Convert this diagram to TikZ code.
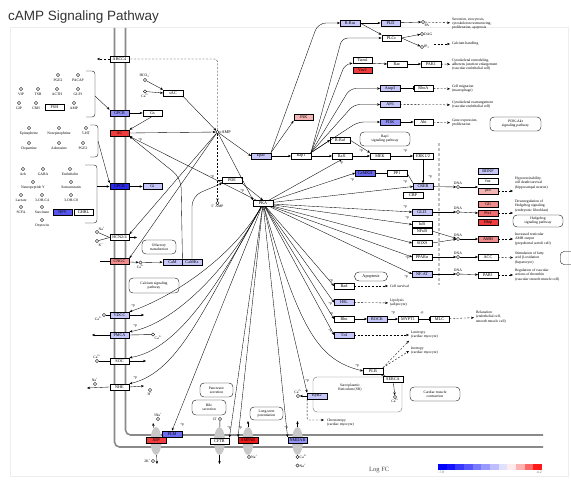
\documentclass[tikz,border=0pt]{standalone}
\usepackage{fontspec}
\setmainfont{Liberation Serif}
\newfontfamily\titlefont{Liberation Sans}
\usetikzlibrary{arrows.meta,positioning,shapes.geometric}

\definecolor{lav}{HTML}{C6C6F8}
\definecolor{midblue}{HTML}{9494F6}
\definecolor{blue2}{HTML}{6C6CF0}
\definecolor{dblue}{HTML}{2A2AEC}
\definecolor{npyblue}{HTML}{5656EE}
\definecolor{red1}{HTML}{F03C3C}
\definecolor{red2}{HTML}{EE1A1A}
\definecolor{pink1}{HTML}{F08C8C}
\definecolor{pink2}{HTML}{F5B4B4}
\definecolor{pink3}{HTML}{F07070}
\definecolor{memgray}{HTML}{8A8A8A}
\definecolor{chgray}{HTML}{C8C8C8}

\newcommand\kf{\fontsize{4.2}{4.6}\selectfont}
\newcommand\kt{\fontsize{3.7}{4.2}\selectfont}
\newcommand\cion{Ca\textsuperscript{2+}}
% ligand: circle with its name below
\newcommand\lig[4]{\node[cpd] (#1) at (#2,#3) {};\node[pp, below=1.4pt of #1] (#1-t) {#4};}

\begin{document}
\begin{tikzpicture}[x=1pt, y=-1pt,
    gene/.style={draw, fill=white, line width=0.35pt, minimum width=19.5pt, minimum height=6.2pt, inner sep=0pt, font=\kf},
    cpd/.style={circle, draw, fill=white, line width=0.4pt, minimum size=3.2pt, inner sep=0pt},
    pp/.style={font=\kt, inner sep=0.2pt},
    txt/.style={font=\kt, align=left, inner sep=0pt, outer sep=2pt, anchor=west},
    pway/.style={draw, rounded corners=4pt, line width=0.35pt, font=\kt, align=center, inner sep=0.5pt},
    myedge/.style={->, line width=0.35pt},
    dedge/.style={->, line width=0.35pt, dash pattern=on 2pt off 1.6pt},
    inhedge/.style={-{Bar[width=4pt]}, line width=0.35pt},
    membrane/.style={draw=memgray, line width=1.6pt, rounded corners=5pt},
    channel/.style={ellipse, fill=chgray, minimum width=11pt, minimum height=28pt, inner sep=0pt},
    >={Stealth[length=3pt, width=2.4pt]}
]
\useasboundingbox (0,0) rectangle (571,487);
\clip (0,0) rectangle (571,487);

% title and frame
\node[anchor=base west, font=\titlefont\fontsize{13.5}{15}\selectfont, text=black!80, inner sep=0pt] (title) at (8,20.5) {cAMP Signaling Pathway};
\draw[black!7, line width=0.5pt] (10,27) rectangle (568,476);

% membrane
\draw[membrane] (114.5,28) -- (114.5,447) -- (543,447);
\draw[membrane] (125.5,28) -- (125.5,435) -- (543,435);
\node[channel] (atp-c) at (156,441) {};
\node[channel] (cftr-c) at (219.5,441) {};
\node[channel] (ampar-c) at (248,441) {};
\node[channel] (nmdar-c) at (297.5,441) {};

% membrane proteins
\node[gene] (abcc) at (119.5,59) {ABCC4};
\node[gene, fill=midblue] (gpcrs) at (119.5,113) {GPCR};
\node[gene, fill=red1] (ac) at (119.5,133) {AC};
\node[gene, fill=dblue] (gpcri) at (119.5,186.5) {GPCR};
\node[gene] (hcn) at (119.5,237.5) {HCN2/4};
\node[gene, fill=pink1] (cngc) at (119.5,261.5) {CNGC};
\node[gene, fill=lav] (vdcc) at (119.5,315) {VDCC};
\node[gene, fill=lav] (pmca) at (119.5,335) {PMCA};
\node[gene] (soc) at (119.5,361) {SOC};
\node[gene] (nhe) at (119.5,387) {NHE};
\node[gene, fill=red1] (atp) at (156,440.5) {ATP};
\node[gene, fill=blue2] (plm) at (172,434) {PLM};
\node[gene] (cftr) at (219.5,441) {CFTR};
\node[gene, fill=red2] (ampar) at (248,440.5) {AMPAR};
\node[gene, fill=midblue] (nmdar) at (297.5,440.5) {NMDAR};

% ligands
\lig{pge}{58}{75}{PGE2}
\lig{pacap}{78}{75}{PACAP}
\lig{vip}{21}{89}{VIP}
\lig{tsh}{38}{89}{TSH}
\lig{acth}{57}{89}{ACTH}
\lig{glp}{78}{89}{GLP1}
\lig{gip}{19}{103}{GIP}
\lig{crh}{36}{103}{CRH}
\lig{amp}{74}{103}{AMP}
\node[gene] (fsh) at (54.5,107) {FSH};
\draw[line width=0.35pt, rounded corners=3pt] (86,71) -- (95,71) -- (95,117) -- (86,117);
\lig{epi}{29}{128}{Epinephrine}
\lig{norepi}{59}{128}{Norepinephrine}
\lig{sht}{86}{128}{5-HT}
\lig{dopa}{29}{143}{Dopamine}
\lig{adeno}{59}{143}{Adenosine}
\lig{pgd}{83}{143}{PGE2}
\draw[line width=0.35pt, rounded corners=3pt] (90,125) -- (98,125) -- (98,157) -- (90,157);
\lig{ach}{23}{169}{Ach}
\lig{gaba}{43}{169}{GABA}
\lig{edn}{70}{169}{Endothelin}
\lig{npy}{33}{182}{Neuropeptide Y}
\lig{sst}{71}{182}{Somatostatin}
\lig{lac}{21}{195}{Lactate}
\lig{ohc4}{42}{195}{3-OH-C4}
\lig{ohc8}{71}{195}{3-OH-C8}
\lig{scfa}{21}{207}{SCFA}
\lig{succ}{42}{207}{Succinate}
\lig{oxt}{42}{220}{Oxytocin}
\node[gene, fill=npyblue] (npyg) at (62.5,212) {NPY};
\node[gene] (ghrl) at (83.5,212) {GHRL};
\draw[line width=0.35pt, rounded corners=3pt] (85,165) -- (97,165) -- (97,223) -- (85,223);
\draw[myedge] (95,96) -- (gpcrs.north west);
\draw[myedge] (98,141) -- (gpcri.north west);
\draw[myedge] (97,186.5) -- (gpcri.west);

% ions at the membrane
\node[cpd, label={[pp]above right:Na\textsuperscript{+}}] (na1) at (97,232) {};
\node[cpd, label={[pp]below right:K\textsuperscript{+}}] (k1) at (97,241) {};
\node[cpd, label={[pp]below:\cion}] (ca2) at (140.5,262.5) {};
\node[cpd, label={[pp]below left:\cion}] (ca3) at (104,315) {};
\node[cpd, label={[pp]below right:\cion}] (ca4) at (153,334.5) {};
\node[cpd, label={[pp]above:\cion}] (ca5) at (97,361) {};
\node[cpd, label={[pp]above:Na\textsuperscript{+}}] (na2) at (95,384) {};
\node[cpd, label={[pp]below:H\textsuperscript{+}}] (h1) at (150,390) {};
\node[cpd, label={[pp]above:3Na\textsuperscript{+}}] (na3) at (158,419) {};
\node[cpd, label={[pp]left:2K\textsuperscript{+}}] (k2) at (153,461) {};
\node[cpd, label={[pp]left:Cl\textsuperscript{-}}] (cl) at (220,419) {};
\node[cpd, label={[pp]right:Na\textsuperscript{+}}] (na4) at (249,457) {};
\node[cpd, label={[pp]right:\cion}] (ca6) at (297.5,457) {};
\node[cpd, label={[pp]right:Na\textsuperscript{+}}] (na5) at (297.5,465.5) {};
\coordinate (abcc-out) at (97,59);
\coordinate (hcn-out) at (137,237.5);
\coordinate (cngc-in) at (100,261.5);
\coordinate (vdcc-out) at (144,315);
\coordinate (pmca-out) at (92,335);
\coordinate (soc-out) at (146,361);
\coordinate (nhe-out) at (87,388);
\coordinate (nhe-in) at (144,386);
\coordinate (atp-out) at (153,423);
\coordinate (atp-in) at (157,464);
\coordinate (cftr-in) at (219.5,464);
\coordinate (ampar-out) at (248,421);
\coordinate (nmdar-out) at (297.5,421);

\draw (na1) -- (hcn.west); \draw (k1) -- (hcn.west);
\draw[myedge] (hcn.east) -- (hcn-out);
\draw (cngc-in) -- (cngc.west);
\draw[myedge] (cngc) -- (ca2);
\draw (ca3) -- (vdcc); \draw[myedge] (vdcc.east) -- (vdcc-out);
\draw[myedge] (pmca.west) -- (pmca-out); \draw (pmca.east) -- (ca4);
\draw (ca5) -- (soc); \draw[myedge] (soc.east) -- (soc-out);
\draw[myedge] (nhe.west) -- (nhe-out); \draw[myedge] (nhe.east) -- (nhe-in);
\draw[myedge] (atp-c) -- (atp-out); \draw[myedge] (atp-c) -- (atp-in);
\draw (cl) -- (cftr-c); \draw[myedge] (cftr-c) -- (cftr-in);
\draw[myedge] (ampar-c) -- (ampar-out); \draw (na4) -- (ampar-c);
\draw[myedge] (nmdar-c) -- (nmdar-out); \draw (ca6) -- (nmdar-c);

% cytosol, upper left
\node[gene] (gs) at (152.5,113) {Gs};
\node[gene, fill=lav] (gi) at (152.5,186.5) {Gi};
\node[gene] (sac) at (173,93) {sAC};
\node[cpd, label={[pp]above:HCO\textsubscript{3}\textsuperscript{-}}] (hco3) at (145,80) {};
\node[cpd, label={[pp]below:\cion}] (ca1) at (145,91.5) {};
\node[cpd, label={[pp, font=\kf]right:cAMP}] (camp) at (217.5,132) {};
\node[cpd, label={[pp]below:5' AMP}] (famp) at (217.5,203) {};
\node[gene, fill=lav] (epac) at (261,156) {Epac};
\node[gene] (pde) at (232,180) {PDE};
\node[gene] (pka) at (263,203.5) {PKA};
\node[gene, fill=lav] (cam) at (172.5,262) {CaM};
\node[gene, fill=lav] (camks) at (192,262) {CaMKs};
\node[pway, minimum width=34pt, minimum height=14pt] (olf) at (159,247) {Olfactory\\transduction};
\node[pway, minimum width=50pt, minimum height=15pt] (casig) at (154,285.5) {Calcium signaling\\pathway};

\draw[myedge] (gpcrs) -- (gs);
\draw[myedge] (gpcri) -- (gi);
\draw[myedge] (gs.south) -- (ac.north east);
\draw[myedge] (ac.east) -- (camp);
\draw[myedge] (hco3) -- (sac.north west);
\draw[myedge] (ca1) -- (sac.west);
\draw[myedge] (sac.south east) -- (camp);
\draw[dedge, -, rounded corners=3pt] (camp) -- (217.5,59) -- (abcc.east);
\draw[dedge] (abcc.west) -- (abcc-out);
\draw[dedge] (camp) -- (famp);
\draw (pde.west) -- (pde.west -| famp);
\draw[myedge] (ca2) -- (cam);
\draw[myedge] (camp) -- (hcn.north east);
\draw[myedge] (camp) -- (cngc.north east);
\draw[myedge] (camp) -- (epac.west);
\draw[myedge] (camp) -- (pka.north west);
\draw[myedge] (pka) -- (ac.south east);
\draw[myedge, rounded corners=10pt] (cam.north east) -- (181,178) -- (ac.south east);
\draw[myedge, rounded corners=10pt] (camks.north) -- (192,196) -- (pde.south west);
\draw[myedge] (pde.south east) -- (pka.north);

% PKA to the membrane
\draw[myedge] (pka) .. controls (230,262) and (165,300) .. (vdcc.north east);
\draw[myedge] (pka) .. controls (225,275) and (170,325) .. (pmca.north east);
\draw[myedge] (pka) .. controls (215,292) and (175,350) .. (soc.north east);
\draw[myedge] (pka) .. controls (205,305) and (180,372) .. (nhe.north east);
\draw[myedge] (pka) -- (plm.north);
\draw[myedge] (pka) -- (cftr.north east);
\draw[myedge] (pka) -- (ampar.north west);
\draw[myedge] (pka) -- (nmdar.north west);

% Epac and Rap1 branch
\node[gene] (rap1) at (301,156) {Rap1};
\node[gene, fill=pink2] (jnk) at (303.5,117.5) {JNK};
\node[gene, fill=lav] (rras) at (350,23) {R-Ras};
\node[gene, fill=lav] (pld) at (390.5,23) {PLD};
\node[gene] (plce) at (391.5,38) {PLCε};
\node[cpd, label={[pp]below right:PA}] (pa) at (423,22) {};
\node[cpd, label={[pp]right:DAG}] (dag) at (422,34) {};
\node[cpd, label={[pp]right:IP\textsubscript{3}}] (ip3) at (422,47) {};
\node[gene] (tiam) at (362.5,60) {Tiam1};
\node[gene, fill=red1] (vav) at (362.5,70) {Vav2};
\node[gene] (rac) at (397,64) {Rac};
\node[gene] (pak) at (431,64) {PAK1};
\node[gene, fill=lav] (arap) at (390,88.5) {Arap3};
\node[gene] (rhoa) at (423.5,88.5) {RhoA};
\node[gene, fill=lav] (af6) at (390,104.5) {AF6};
\node[gene, fill=midblue] (pi3k) at (390,122) {PI3K};
\node[gene] (akt) at (423.5,122) {Akt};
\node[pway, minimum width=51pt, minimum height=14pt] (pi3kpw) at (515.5,124) {PI3K-Akt\\signaling pathway};
\node[pway, minimum width=50pt, minimum height=14pt] (rap1pw) at (385,139) {Rap1\\signaling pathway};
\node[gene] (braf) at (340,140) {B-Raf};
\node[gene] (raf1) at (342,156) {Raf1};
\node[gene] (mek) at (380,156) {MEK};
\node[gene] (erk) at (423,156) {ERK1/2};
\node[gene, fill=blue2] (camkii) at (365,173) {CaMKII};
\node[gene] (pp1) at (397,173) {PP1};
\node[txt] (t-sec) at (450,23.5) {Secretion, exocytosis,\\cytoskeleton restructuring,\\proliferation, apoptosis};
\node[txt] (t-ca) at (450,44) {Calcium handling};
\node[txt] (t-cyto) at (450,64.5) {Cytoskeletal remodeling,\\adherens junction enlargement\\(vascular endothelial cell)};
\node[txt] (t-mig) at (450,89) {Cell migration\\(macrophage)};
\node[txt] (t-rear) at (450,105) {Cytoskeletal rearrangement\\(vascular endothelial cell)};
\node[txt] (t-gene) at (450,123) {Gene expression,\\proliferation};
\coordinate (ca-start) at (434,44);

\draw[myedge] (epac) -- (rap1);
\draw[myedge] (epac.north east) -- (jnk.south west);
\draw[myedge, rounded corners=8pt] (epac.north east) -- (318,23) -- (rras.west);
\draw[myedge] (rras) -- (pld);
\draw[myedge] (rras.east) -- (plce.north west);
\draw[myedge] (pld) -- (pa);
\draw[myedge] (plce.east) -- (dag);
\draw[myedge] (plce.east) -- (ip3);
\draw[dedge] (pa) -- (t-sec);
\draw[dedge] (ca-start) -- (t-ca);
\draw[myedge, rounded corners=6pt] (rap1.north east) -- (342,38) -- (plce.west);
\draw[myedge, rounded corners=6pt] (rap1.north east) -- (345,64) -- (tiam.south west);
\draw[myedge, rounded corners=6pt] (rap1.north east) -- (350,88.5) -- (arap.west);
\draw[myedge, rounded corners=6pt] (rap1.north east) -- (354,104.5) -- (af6.west);
\draw[myedge, rounded corners=6pt] (rap1.north east) -- (358,122) -- (pi3k.west);
\draw[myedge] (rap1.north east) -- (braf.west);
\draw[myedge] (rap1) -- (raf1);
\draw[myedge] (tiam.south east) -- (rac.west);
\draw[myedge] (rac) -- (pak);
\draw[dedge] (pak) -- (t-cyto);
\draw[inhedge] (arap) -- (rhoa);
\draw[dedge] (rhoa) -- (t-mig);
\draw[dedge] (af6) -- (t-rear);
\draw[myedge] (pi3k) -- (akt);
\draw[dedge] (akt) -- (t-gene);
\draw[myedge] (braf.east) -- (mek.north west);
\draw[myedge] (raf1) -- (mek);
\draw[myedge] (mek) -- (erk);
\draw[inhedge] (camkii) -- (pp1);

% nucleus
\draw[black!25, line width=1.5pt, dash pattern=on 3pt off 2pt] (439,143) -- (439,285);
\node[gene, fill=lav] (creb) at (423,186.5) {CREB};
\node[gene] (cbp) at (413,195) {CBP};
\node[gene, fill=lav] (gli3) at (422,212) {GLI3};
\node[gene] (ikb) at (422,224.5) {IκB};
\node[gene] (nfkb) at (422,231) {NFκB};
\node[gene] (sox9) at (422,243) {SOX9};
\node[gene] (ppar) at (422,257) {PPARα};
\node[gene, fill=lav] (nfat) at (422,274) {NF-AT};
\node[cpd, label={[pp]above:DNA}] (dna1) at (458,187) {};
\node[cpd, label={[pp]above:DNA}] (dna2) at (458,212) {};
\node[cpd, label={[pp]above:DNA}] (dna3) at (458,239) {};
\node[cpd, label={[pp]above:DNA}] (dna4) at (458,257) {};
\node[cpd, label={[pp]above:DNA}] (dna5) at (458,274) {};
\node[gene, fill=lav] (bdnf) at (488,171) {BDNF};
\node[gene] (fos) at (488,181) {fos};
\node[gene, fill=pink2] (jun) at (488,191) {jun};
\node[gene, fill=pink1] (gli) at (488,204) {Gli};
\node[gene, fill=pink3] (ptc) at (488,213) {Ptc1};
\node[gene, fill=red1] (hhip) at (488,222) {Hhip};
\node[gene, fill=pink1] (amh) at (488,239) {AMH};
\node[gene] (acc) at (488,257) {ACC};
\node[gene] (par1) at (488,275) {PAR1};
\node[txt] (t-hyper) at (513,183) {Hyperexcitability,\\cell death/survival\\(hippocampal neuron)};
\node[txt] (t-down) at (513,206) {Downregulation of\\Hedgehog signaling\\(embryonic fibroblast)};
\node[pway, minimum width=50pt, minimum height=12pt] (hhpw) at (538,221) {Hedgehog\\signaling pathway};
\node[txt] (t-amh) at (513,239) {Increased testicular\\AMH output\\(prepubertal sertoli cell)};
\node[txt] (t-fat) at (513,258) {Stimulation of fatty\\acid β-oxidation\\(hepatocyte)};
\node[pway, minimum width=40pt, minimum height=13pt, anchor=west] (fapw) at (560,258) {Fatty acid\\degradation};
\node[txt] (t-par) at (513,275) {Regulation of vascular\\actions of thrombin\\(vascular smooth muscle cell)};

\draw[myedge] (erk) -- (creb);
\draw (pp1.east) -- (creb.north west);
\draw[myedge] (creb) -- (dna1);
\draw[myedge] (dna1) -- (dna1 -| jun.west);
\draw[myedge] (gli3) -- (dna2);
\draw[myedge] (dna2) -- (ptc.west);
\draw[myedge] (nfkb.east) -- (dna3);
\draw[myedge] (sox9.east) -- (dna3);
\draw[myedge] (dna3) -- (amh);
\draw[myedge] (ppar) -- (dna4);
\draw[myedge] (dna4) -- (acc);
\draw[myedge] (nfat) -- (dna5);
\draw[myedge] (dna5) -- (par1);
\draw[dedge] (jun.east) -- (jun.east -| t-hyper.west);
\draw[dedge] (ptc.east) -- (ptc.east -| t-down.west);
\draw[dedge] (amh) -- (t-amh);
\draw[dedge] (acc) -- (t-fat);
\draw[dedge] (par1) -- (t-par);

% PKA targets on the right
\draw[myedge] (pka) -- (camkii.west);
\draw[myedge] (pka) -- (raf1.south);
\draw[myedge] (pka) -- (creb.west);
\draw[myedge] (pka) -- (gli3.west);
\draw[myedge] (pka) -- (ikb.west);
\draw[myedge] (pka) -- (sox9.west);
\draw[myedge] (pka) -- (ppar.west);
\draw[myedge] (pka) -- (nfat.west);

% lower cytosol
\node[pway, minimum width=33pt, minimum height=9pt, rounded corners=4.5pt, font=\kf] (apo) at (371,276.5) {Apoptosis};
\node[gene] (bad) at (344,286) {Bad};
\node[gene, fill=lav] (hsl) at (344,302.5) {HSL};
\node[gene] (rho) at (344,319) {Rho};
\node[gene, fill=lav] (rock) at (377,319) {ROCK};
\node[gene] (mypt) at (408,319) {MYPT1};
\node[gene] (mlc) at (439.5,319) {MLC};
\node[gene, fill=lav] (tni) at (344,335) {TnI};
\node[txt] (t-surv) at (388,286) {Cell survival};
\node[txt] (t-lipo) at (388,303) {Lipolysis\\(adipocyte)};
\node[txt] (t-relax) at (474,317) {Relaxation\\(endothelial cell,\\smooth muscle cell)};
\node[txt] (t-lusi) at (409,335) {Lusitropy\\(cardiac myocyte)};
\node[txt] (t-ino) at (409,351) {Inotropy\\(cardiac myocyte)};
\node[draw=black!55, line width=0.4pt, rounded corners=4pt, minimum width=89pt, minimum height=35pt] (sr) at (357.5,394.5) {};
\node[pp, align=center] (sr-t) at (350,388) {Sarcoplasmic\\Reticulum (SR)};
\node[gene] (plb) at (373,371) {PLB};
\node[gene] (serca) at (393,379) {SERCA};
\node[cpd, label={[pp]below:\cion}] (ca7) at (395,397) {};
\node[gene, fill=lav] (ryr) at (317,396) {RyR2};
\node[cpd, label={[pp]above:\cion}] (ca8) at (298,396) {};
\node[txt, anchor=north west] (t-chr) at (325,417) {Chronotropy\\(cardiac myocyte)};
\coordinate (chr-end) at (324,420);
\node[pway, minimum width=50pt, minimum height=14pt] (cmc) at (435,394) {Cardiac muscle\\contraction};
\node[pway, minimum width=33pt, minimum height=14pt] (panc) at (216.5,390) {Pancreatic\\secretion};
\node[pway, minimum width=34pt, minimum height=15pt] (bile) at (209,407.5) {Bile\\secretion};
\node[pway, minimum width=33pt, minimum height=13pt] (ltp) at (266.5,413.5) {Long-term\\potentiation};

\draw[myedge] (pka) -- (bad.west);
\draw[myedge] (pka) -- (hsl.west);
\draw[myedge] (pka) -- (rho.west);
\draw[myedge] (pka) -- (tni.west);
\draw[myedge] (pka) .. controls (300,330) and (318,360) .. (plb.west);
\draw[myedge] (pka) -- (ryr.north west);
\draw[dedge] (bad) -- (t-surv);
\draw[dedge] (hsl) -- (t-lipo);
\draw[myedge] (rho) -- (rock);
\draw[myedge] (rock) -- (mypt);
\draw[inhedge] (mypt) -- (mlc);
\draw[dedge] (mlc) -- (t-relax);
\draw[dedge] (tni) -- (t-lusi);
\draw[dedge] (plb.north east) -- (t-lusi.south west);
\draw[dedge] (plb.north east) -- (t-ino.west);
\draw[inhedge] (plb.south east) -- (serca.north west);
\draw[myedge] (serca) -- (ca7);
\draw[myedge] (ryr) -- (ca8);
\draw[dedge, rounded corners=2pt] (ryr.south west) -- (ryr.south west |- chr-end) -- (chr-end);

% phosphorylation marks
\foreach \x/\y [count=\k] in {140/140, 182/425, 229/428, 240/428, 286/428, 307/381, 357/366,
    133/306, 135/326, 135/378, 212/177, 242/191, 341/163, 352/180, 361/151, 405/151,
    405/182, 430/177, 405/207, 407/218, 407/258, 406/277, 331/281, 330/304, 331/314,
    330/331, 393/313}
  \node[pp] (p\k) at (\x,\y) {+p};
\node[pp] (mp1) at (422,313) {-p};

% legend
\foreach \c [count=\i from 0] in {blue, blue!92, blue!78, blue!66, blue!52, blue!40, blue!26, blue!12, red!8, red!30, red!60, red!90}
  \fill[\c] (438+\i*8.667,464) rectangle ++(8.667,6);
\node[pp, text=black!60, anchor=north west] (lg-lo) at (438,471) {-7.8};
\node[pp, text=black!60, anchor=north east] (lg-hi) at (542,471) {4.2};
\node[font=\fontsize{6.5}{7}\selectfont, text=black!70, anchor=west, inner sep=0pt] (logfc) at (369,470) {Log FC};
\end{tikzpicture}
\end{document}
